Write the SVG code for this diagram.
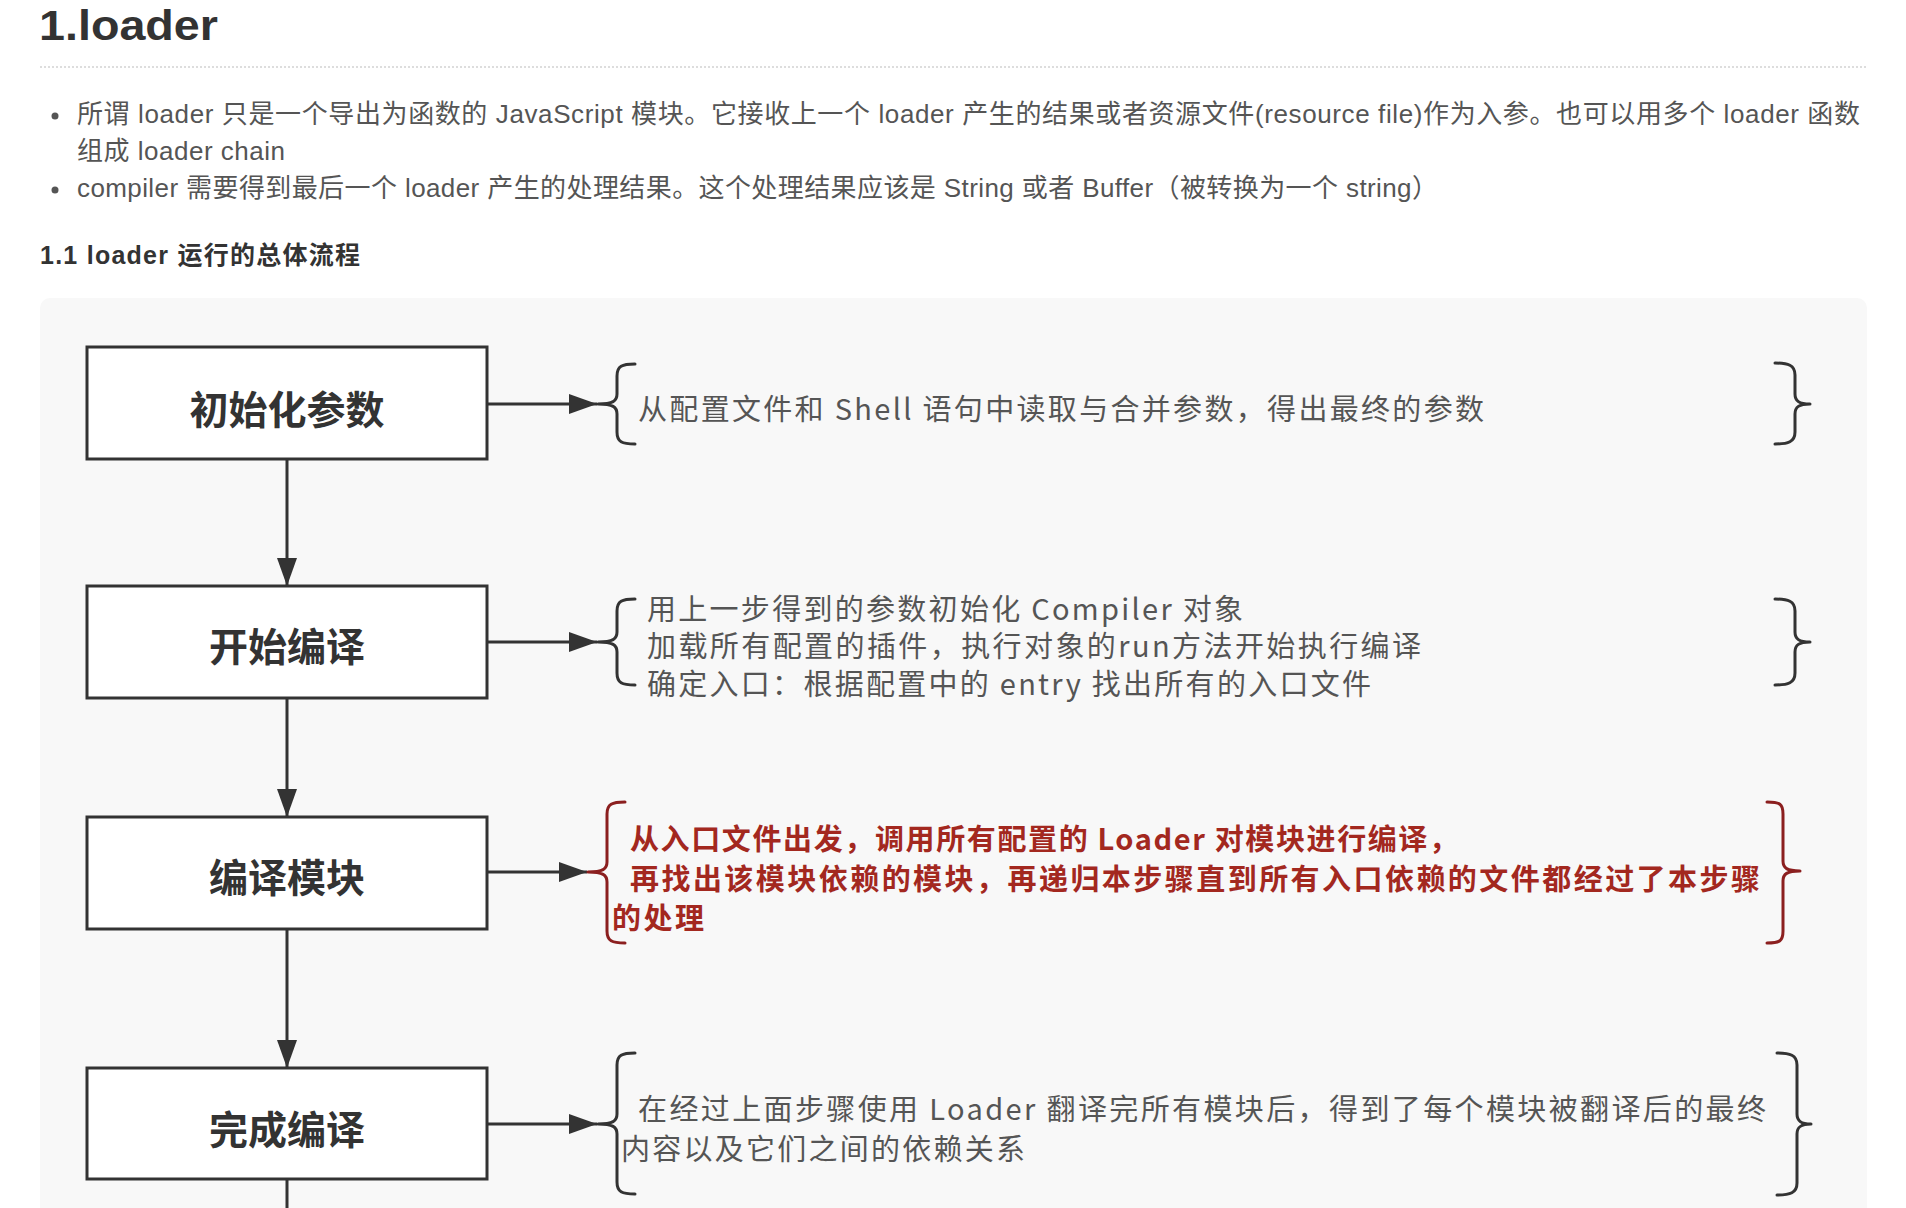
<svg xmlns="http://www.w3.org/2000/svg" width="1906" height="1208" viewBox="0 0 1906 1208">
<defs>
<style>
.page{font-family:"Liberation Sans","Noto Sans CJK SC",sans-serif;fill:#555;}
.title{font-family:"Liberation Sans","Noto Sans CJK SC",sans-serif;fill:#333;font-weight:bold;font-size:42px;}
.sub{font-family:"Liberation Sans","Noto Sans CJK SC",sans-serif;fill:#333;font-weight:bold;font-size:25px;}
.box{fill:#fff;stroke:#333;stroke-width:3;}
.lbl{font-family:"Noto Sans CJK SC",sans-serif;font-weight:bold;font-size:39px;fill:#333;text-anchor:middle;}
.note{font-family:"Noto Sans CJK SC",sans-serif;font-size:29px;fill:#555;}
.rnote{font-family:"Noto Sans CJK SC",sans-serif;font-size:29px;font-weight:bold;fill:#a3281f;}
.brace{fill:none;stroke:#333;stroke-width:3;stroke-linecap:round;}
.rbrace{fill:none;stroke:#8b1f1f;stroke-width:3;stroke-linecap:round;}
.conn{fill:none;stroke:#333;stroke-width:3;}
</style>
<marker id="ah" viewBox="0 0 28 20" refX="28" refY="10" markerWidth="28" markerHeight="20" markerUnits="userSpaceOnUse" orient="auto">
<path d="M0,0 L28,10 L0,20 Z" fill="#333"/>
</marker>
</defs>
<rect x="0" y="0" width="1906" height="1208" fill="#fff"/>
<g id="header">
<text class="title" x="39" y="40" textLength="179" lengthAdjust="spacingAndGlyphs">1.loader</text>
<line x1="40" y1="67" x2="1866" y2="67" stroke="#ddd" stroke-width="2" stroke-dasharray="2,2"/>
<circle cx="55" cy="116" r="3.5" fill="#555"/>
<text class="page" x="77" y="123" font-size="26" textLength="1783">所谓 loader 只是一个导出为函数的 JavaScript 模块。它接收上一个 loader 产生的结果或者资源文件(resource file)作为入参。也可以用多个 loader 函数</text>
<text class="page" x="77" y="160" font-size="26" textLength="208">组成 loader chain</text>
<circle cx="55" cy="190" r="3.5" fill="#555"/>
<text class="page" x="77" y="197" font-size="26" textLength="1361">compiler 需要得到最后一个 loader 产生的处理结果。这个处理结果应该是 String 或者 Buffer（被转换为一个 string）</text>
<text class="sub" x="40" y="264" textLength="320">1.1 loader 运行的总体流程</text>
</g>
<rect id="panel" x="40" y="298" width="1827" height="940" rx="10" fill="#f8f8f8"/>
<g id="connectors">
<path class="conn" d="M287,459 V586" marker-end="url(#ah)"/>
<path class="conn" d="M287,698 V817" marker-end="url(#ah)"/>
<path class="conn" d="M287,929 V1068" marker-end="url(#ah)"/>
<path class="conn" d="M287,1179 V1210"/>
<path class="conn" d="M487,404 H597" marker-end="url(#ah)"/>
<path class="conn" d="M487,642 H597" marker-end="url(#ah)"/>
<path class="conn" d="M487,872 H587" marker-end="url(#ah)"/>
<path class="conn" d="M487,1124 H597" marker-end="url(#ah)"/>
</g>
<g id="node-init">
<rect class="box" x="87" y="347" width="400" height="112"/>
<text class="lbl" x="287" y="424">初始化参数</text>
</g>
<g id="node-start">
<rect class="box" x="87" y="586" width="400" height="112"/>
<text class="lbl" x="287" y="661">开始编译</text>
</g>
<g id="node-compile">
<rect class="box" x="87" y="817" width="400" height="112"/>
<text class="lbl" x="287" y="892">编译模块</text>
</g>
<g id="node-done">
<rect class="box" x="87" y="1068" width="400" height="111"/>
<text class="lbl" x="287" y="1144">完成编译</text>
</g>
<g id="note-init">
<path class="brace" d="M635,364 C622,364 617,366 617,376 L617,394 C617,401 613,404 598,404 M598,404 C613,404 617,407 617,414 L617,432 C617,442 622,444 635,444"/>
<path class="brace" d="M1775,363 C1788,363 1795,365 1795,375 L1795,394 C1795,401 1799,404 1810,404 M1810,404 C1799,404 1795,407 1795,414 L1795,432 C1795,442 1788,444 1775,444"/>
<text class="note" x="638" y="420" textLength="846">从配置文件和 Shell 语句中读取与合并参数，得出最终的参数</text>
</g>
<g id="note-start">
<path class="brace" d="M635,599 C622,599 617,601 617,611 L617,632 C617,639 613,642 598,642 M598,642 C613,642 617,645 617,652 L617,673 C617,683 622,685 635,685"/>
<path class="brace" d="M1775,599 C1788,599 1795,601 1795,611 L1795,632 C1795,639 1799,642 1810,642 M1810,642 C1799,642 1795,645 1795,652 L1795,673 C1795,683 1788,685 1775,685"/>
<text class="note" x="647" y="620" textLength="596">用上一步得到的参数初始化 Compiler 对象</text>
<text class="note" x="647" y="657" textLength="774">加载所有配置的插件，执行对象的run方法开始执行编译</text>
<text class="note" x="647" y="695" textLength="724">确定入口：根据配置中的 entry 找出所有的入口文件</text>
</g>
<g id="note-compile">
<path class="rbrace" d="M625,802 C612,802 607,804 607,814 L607,862 C607,869 603,872 588,872 M588,872 C603,872 607,875 607,882 L607,931 C607,941 612,943 625,943"/>
<path class="rbrace" d="M1767,802 C1780,802 1783,804 1783,814 L1783,861 C1783,868 1787,871 1800,871 M1800,871 C1787,871 1783,874 1783,881 L1783,931 C1783,941 1780,943 1767,943"/>
<text class="rnote" x="630" y="850" textLength="828">从入口文件出发，调用所有配置的 Loader 对模块进行编译，</text>
<text class="rnote" x="630" y="890" textLength="1130">再找出该模块依赖的模块，再递归本步骤直到所有入口依赖的文件都经过了本步骤</text>
<text class="rnote" x="612" y="929" textLength="92">的处理</text>
</g>
<g id="note-done">
<path class="brace" d="M635,1053 C622,1053 617,1055 617,1065 L617,1114 C617,1121 613,1124 598,1124 M598,1124 C613,1124 617,1127 617,1134 L617,1182 C617,1192 622,1194 635,1194"/>
<path class="brace" d="M1777,1053 C1790,1053 1797,1055 1797,1065 L1797,1114 C1797,1121 1801,1124 1811,1124 M1811,1124 C1801,1124 1797,1127 1797,1134 L1797,1183 C1797,1193 1790,1195 1777,1195"/>
<text class="note" x="638" y="1120" textLength="1128">在经过上面步骤使用 Loader 翻译完所有模块后，得到了每个模块被翻译后的最终</text>
<text class="note" x="621" y="1160" textLength="404">内容以及它们之间的依赖关系</text>
</g>
</svg>
